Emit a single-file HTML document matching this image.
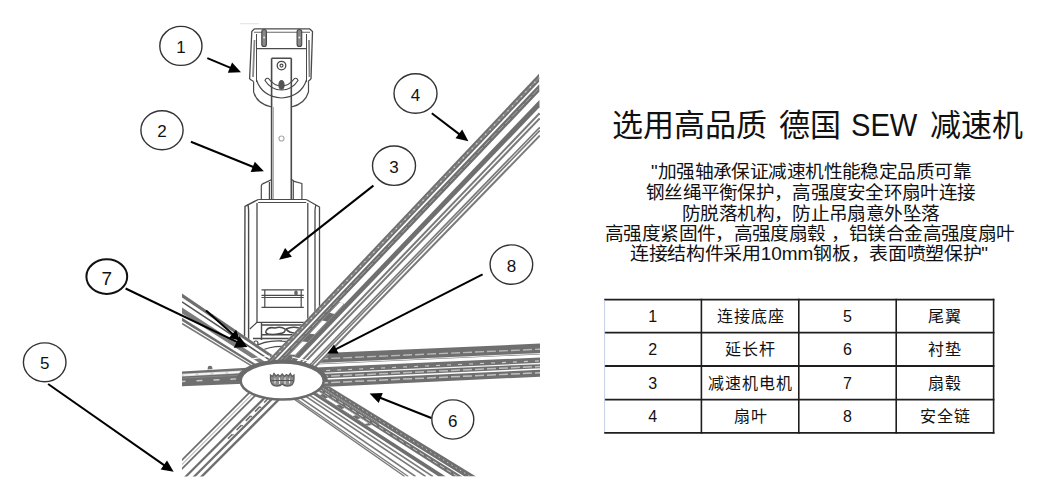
<!DOCTYPE html>
<html lang="zh-CN"><head><meta charset="utf-8">
<style>
html,body{margin:0;padding:0;background:#fff;}
body{width:1056px;height:499px;position:relative;overflow:hidden;font-family:"Liberation Sans",sans-serif;color:#111;}
.t{position:absolute;white-space:nowrap;line-height:1;transform-origin:0 0;}
.c{position:absolute;width:96px;height:18px;line-height:18px;text-align:center;font-size:16px;letter-spacing:1px;text-indent:1px;color:#111;white-space:nowrap;}
td{width:95.4px;height:31.3px;border:2px solid #222;padding:0;text-align:center;font-size:16px;color:#111;}
td.l{border-left:1px solid #c9d3e6;}
</style></head><body>
<svg width="1056" height="499" style="position:absolute;left:0;top:0" font-family="Liberation Sans, sans-serif">
<defs><clipPath id="cp"><rect x="182" y="0" width="358" height="476.5"/></clipPath></defs>
<g clip-path="url(#cp)">

<g fill="none" stroke="#4a4a4a" stroke-width="1.2" stroke-linejoin="round">
  <!-- bracket outer frame -->
  <path d="M254.5,28.8 L309.5,28.8 L312.5,31.5 L311,79 M254.5,28.8 L251.8,31.5 L249.6,79" stroke-width="1.3"/>
  <path d="M254,32.3 L310,32.3" stroke-width="1.1" stroke="#666"/>
  <path d="M249.6,79 L253.6,81.5 M311,79 L308,81.5" />
  <path d="M254.5,40 L253,77 M309,40 L309.5,77" stroke-width="1.8" stroke="#888"/>
  <path d="M256,48.7 L307,48.7" stroke-width="1.2"/>
  <path d="M256.5,34 L256.5,82 M306.5,34 L306.5,82" stroke-width="1"/>
  <path d="M253.6,81.5 L253.6,92 Q257,104 271.6,107 M308.5,81.5 L308.5,92 Q305,104 291.3,107" stroke-width="1.2"/>
  <path d="M256.5,80 Q262,96.5 281.5,98 Q301,96.5 306.5,80" />
  <path d="M265,80.5 Q271,90 281.5,90 Q292,90 298,80.5 Q297,77.5 294.5,78.5 Q289,86 281.5,86 Q274,86 268.5,78.5 Q266,77.5 265,80.5 Z" stroke-width="1.2"/>
  <ellipse cx="281.5" cy="85" rx="3.2" ry="5" fill="#555" stroke="none"/>
  <line x1="240" y1="23.7" x2="259" y2="23.7" stroke="#e6e6e6" stroke-width="1.2"/>
  <!-- bolts -->
  <rect x="261.8" y="29.5" width="4.6" height="17" rx="2.3" fill="#888"/>
  <rect x="297.1" y="29.5" width="4.6" height="17" rx="2.3" fill="#888"/>
  <circle cx="264.1" cy="37.5" r="0.9" fill="#eee" stroke="none"/>
  <circle cx="299.4" cy="37.5" r="0.9" fill="#eee" stroke="none"/>
  <!-- rod -->
  <path d="M271.6,58.3 L291.3,58.3 M271.6,58.3 L271.6,200 M291.3,58.3 L291.3,200" stroke-width="1.6"/>
  <path d="M273.5,107 L273.5,200" stroke-width="0.8" stroke="#999"/>
  <circle cx="281.5" cy="65.6" r="4.3" stroke-width="1.3"/>
  <circle cx="281.5" cy="65.6" r="1.5" />
  <circle cx="281.5" cy="138.5" r="2.5" stroke="#aaa"/>
  <!-- rod collars -->
  <path d="M271.7,179.5 L265.3,182.6 Q261.3,184 261.3,186 L261.3,199.8 M269.4,182 L269.4,199.8" />
  <path d="M291,179 L294.2,181.3 L301.9,183.5 L301.9,199.8 M293.3,181 L293.3,199.8" />
  <!-- housing -->
  <path d="M258.2,199.5 L306.2,199.5 M258.2,202.5 L306.2,202.5" stroke-width="1.2"/>
  <path d="M258.2,199.5 L245,206.4 L244.5,345 M248,204 L248.6,210 L248.6,345" stroke-width="1.4"/>
  <path d="M306.2,199.5 L319.5,207 L319.5,340 M315.8,204.6 L315,210 L315,340" stroke-width="1.3"/>
  <path d="M257,203 L257,322.3 L307.8,322.3 L307.8,203" stroke-width="1.3"/>
  <!-- label plate -->
  <path d="M261.5,289.8 L303.8,289.8 M261.5,295.4 L303.8,295.4 M261.5,297.5 L303.8,297.5 M261.5,307.4 L303.8,307.4 M264.8,290 L264.8,307.4 M301.2,290 L301.2,307.4" stroke-width="1.2"/>
  <ellipse cx="296" cy="293" rx="1.8" ry="2.7" fill="#666" stroke="none"/>
  <!-- gearbox -->
  <path d="M257,322.3 L249.8,329 M307.8,322.3 L314,329" />
  <path d="M261.5,323 L261.5,340 M261.5,325 L303,325 M261.5,334.7 L300,334.7 M253,338.5 L312,338.5" stroke-width="1.4"/>
  <path d="M266,331 Q268,326.5 275,328 Q281,326 285,329 Q286,333 280,333.5 Q273,335 268,334 Q265,333 266,331 Z" stroke-width="1.5"/>
  <path d="M286,329 Q292,326 299,328 Q301,332 295,333 Q289,333 286,329 Z" stroke-width="1.5"/>
  <path d="M252,349 Q262,340 282,341 Q298,341 310,348" stroke-width="1.4"/>
  <path d="M258,352 Q270,346 284,346.5 Q296,347 304,351" stroke-width="1.2"/>
  <circle cx="256" cy="343" r="2" stroke-width="1.2"/>
</g>

<polygon points="275.4,366.6 150.0,492.0 183.0,496.0 308.4,370.6" fill="#fff"/>
<line x1="275.4" y1="366.6" x2="150.0" y2="492.0" stroke="#6f6f6f" stroke-width="1.80" stroke-linecap="butt"/>
<line x1="279.4" y1="367.0" x2="154.0" y2="492.5" stroke="#9a9a9a" stroke-width="1.00" stroke-linecap="butt"/>
<line x1="283.2" y1="367.5" x2="157.8" y2="492.9" stroke="#6f6f6f" stroke-width="1.80" stroke-linecap="butt"/>
<line x1="293.6" y1="368.8" x2="168.2" y2="494.2" stroke="#6f6f6f" stroke-width="2.20" stroke-linecap="butt"/>
<line x1="301.2" y1="369.7" x2="175.7" y2="495.1" stroke="#6f6f6f" stroke-width="2.20" stroke-linecap="butt"/>
<line x1="307.8" y1="370.5" x2="182.3" y2="495.9" stroke="#6f6f6f" stroke-width="2.40" stroke-linecap="butt"/>
<line x1="278.3" y1="388.3" x2="227.9" y2="438.7" stroke="#6f6f6f" stroke-width="1.60" stroke-dasharray="7 6" stroke-linecap="butt"/>
<line x1="279.5" y1="388.4" x2="229.1" y2="438.8" stroke="#6f6f6f" stroke-width="1.20" stroke-dasharray="1.5 11.5" stroke-linecap="butt"/>
<polygon points="270.4,366.3 182.0,371.5 182.0,386.3 270.4,382.7" fill="#fff"/>
<polygon points="270.4,366.3 182.0,371.5 182.0,386.3 270.4,382.7" fill="#6f6f6f"/>
<line x1="270.4" y1="370.4" x2="182.0" y2="375.2" stroke="#d4d4d4" stroke-width="2.80" stroke-linecap="butt"/>
<line x1="270.4" y1="370.4" x2="182.0" y2="375.2" stroke="#fafafa" stroke-width="1.40" stroke-dasharray="12 3" stroke-linecap="butt"/>
<line x1="270.4" y1="373.7" x2="182.0" y2="378.2" stroke="#8a8a8a" stroke-width="0.80" stroke-linecap="butt"/>
<line x1="270.4" y1="377.3" x2="182.0" y2="381.4" stroke="#cacaca" stroke-width="1.50" stroke-dasharray="6 11" stroke-linecap="butt"/>
<polygon points="278.3,359.0 182.0,293.5 182.0,324.7 258.2,371.0" fill="#fff"/>
<polygon points="278.3,359.0 182.0,293.5 182.0,297.6 275.7,360.6" fill="#6f6f6f"/>
<line x1="272.9" y1="362.2" x2="182.0" y2="301.9" stroke="#555" stroke-width="1.60" stroke-linecap="butt"/>
<polygon points="269.2,364.4 182.0,307.5 182.0,313.5 265.4,366.7" fill="#7c7c7c"/>
<polygon points="262.6,368.3 182.0,317.8 182.0,321.0 260.6,369.5" fill="#6f6f6f"/>
<line x1="259.0" y1="370.5" x2="182.0" y2="323.5" stroke="#7a7a7a" stroke-width="1.60" stroke-linecap="butt"/>
<polygon points="304.6,371.2 476.0,476.5 404.0,476.5 278.6,388.6" fill="#fff"/>
<polygon points="304.6,371.2 476.0,476.5 464.5,476.5 300.5,374.0" fill="#6f6f6f"/>
<line x1="302.6" y1="372.6" x2="470.2" y2="476.5" stroke="#c8c8c8" stroke-width="1.00" stroke-dasharray="1.5 3.5" stroke-linecap="butt"/>
<polygon points="299.7,374.5 462.3,476.5 453.0,476.5 296.3,376.8" fill="#6f6f6f"/>
<line x1="298.0" y1="375.6" x2="457.6" y2="476.5" stroke="#c8c8c8" stroke-width="1.00" stroke-dasharray="5 3" stroke-linecap="butt"/>
<polygon points="300.5,374.0 379.5,423.4 378.1,423.7 299.7,374.5" fill="#6f6f6f"/>
<polygon points="296.3,376.8 371.8,424.9 367.0,425.8 293.7,378.5" fill="#6f6f6f"/>
<polygon points="315.4,389.5 322.4,393.9 320.0,394.9 313.2,390.5" fill="#fff"/>
<polygon points="327.9,397.5 339.1,404.6 336.4,405.4 325.4,398.4" fill="#fff"/>
<polygon points="344.6,408.1 355.8,415.2 352.7,416.0 341.8,409.0" fill="#fff"/>
<polygon points="360.7,418.3 368.3,423.2 365.0,423.9 357.5,419.0" fill="#fff"/>
<polygon points="293.7,378.5 445.8,476.5 438.6,476.5 291.1,380.2" fill="#6f6f6f"/>
<line x1="289.0" y1="381.6" x2="432.8" y2="476.5" stroke="#7a7a7a" stroke-width="1.60" stroke-linecap="butt"/>
<line x1="286.4" y1="383.4" x2="425.6" y2="476.5" stroke="#7a7a7a" stroke-width="1.60" stroke-linecap="butt"/>
<line x1="282.7" y1="385.8" x2="415.5" y2="476.5" stroke="#7a7a7a" stroke-width="1.60" stroke-linecap="butt"/>
<line x1="280.1" y1="387.5" x2="408.3" y2="476.5" stroke="#7a7a7a" stroke-width="1.30" stroke-linecap="butt"/>
<line x1="278.8" y1="388.4" x2="404.7" y2="476.5" stroke="#7a7a7a" stroke-width="1.30" stroke-linecap="butt"/>
<polygon points="271.2,355.2 540.0,343.6 540.0,376.7 271.2,389.4" fill="#fff"/>
<polygon points="271.2,355.2 540.0,343.6 540.0,354.5 271.2,366.5" fill="#6f6f6f"/>
<line x1="271.2" y1="361.0" x2="540.0" y2="349.2" stroke="#b8b8b8" stroke-width="1.40" stroke-dasharray="9 3" stroke-linecap="butt"/>
<line x1="271.2" y1="365.5" x2="540.0" y2="353.5" stroke="#e6e6e6" stroke-width="1.00" stroke-linecap="butt"/>
<polygon points="271.2,369.6 540.0,357.5 540.0,376.7 271.2,389.4" fill="#6f6f6f"/>
<line x1="271.2" y1="373.0" x2="540.0" y2="360.8" stroke="#c8c8c8" stroke-width="1.20" stroke-dasharray="4 7" stroke-linecap="butt"/>
<line x1="271.2" y1="375.7" x2="540.0" y2="363.5" stroke="#f4f4f4" stroke-width="1.30" stroke-linecap="butt"/>
<line x1="271.2" y1="378.8" x2="540.0" y2="366.4" stroke="#bdbdbd" stroke-width="1.50" stroke-dasharray="9 3" stroke-linecap="butt"/>
<line x1="271.2" y1="381.5" x2="540.0" y2="369.1" stroke="#ffffff" stroke-width="1.50" stroke-linecap="butt"/>
<line x1="271.2" y1="385.3" x2="540.0" y2="372.7" stroke="#c0c0c0" stroke-width="1.50" stroke-dasharray="9 3" stroke-linecap="butt"/>
<polygon points="258.1,370.8 539.0,73.8 540.0,137.0 314.2,369.1" fill="#fff"/>
<polygon points="258.1,370.8 539.0,73.8 539.1,81.7 265.1,370.6" fill="#6f6f6f"/>
<line x1="261.6" y1="370.7" x2="539.1" y2="77.8" stroke="#888" stroke-width="1.60" stroke-linecap="butt"/>
<line x1="261.6" y1="370.7" x2="539.1" y2="77.8" stroke="#d0d0d0" stroke-width="1.30" stroke-dasharray="1.5 5" stroke-linecap="butt"/>
<polygon points="267.4,370.5 539.2,84.2 539.3,91.8 274.1,370.3" fill="#6f6f6f"/>
<line x1="270.7" y1="370.4" x2="539.2" y2="88.0" stroke="#a8a8a8" stroke-width="1.00" stroke-dasharray="8 2" stroke-linecap="butt"/>
<polygon points="274.1,370.3 339.1,302.0 344.7,303.9 281.4,370.1" fill="#6f6f6f"/>
<polygon points="289.9,354.6 302.4,341.5 307.4,342.0 295.2,354.8" fill="#fff"/>
<polygon points="309.9,333.7 322.3,320.6 326.9,321.6 314.7,334.3" fill="#fff"/>
<polygon points="329.8,312.7 339.8,302.2 344.0,303.7 334.3,313.9" fill="#fff"/>
<polygon points="281.4,370.1 539.4,100.0 539.5,107.3 287.8,369.9" fill="#6f6f6f"/>
<line x1="293.2" y1="369.8" x2="539.6" y2="113.3" stroke="#7a7a7a" stroke-width="2.00" stroke-linecap="butt"/>
<line x1="297.7" y1="369.6" x2="539.7" y2="118.4" stroke="#7a7a7a" stroke-width="2.00" stroke-linecap="butt"/>
<line x1="305.5" y1="369.4" x2="539.8" y2="127.2" stroke="#7a7a7a" stroke-width="1.60" stroke-linecap="butt"/>
<line x1="308.3" y1="369.3" x2="539.9" y2="130.4" stroke="#7a7a7a" stroke-width="1.60" stroke-linecap="butt"/>
<line x1="312.8" y1="369.2" x2="540.0" y2="135.4" stroke="#7a7a7a" stroke-width="2.00" stroke-linecap="butt"/>
<path d="M207.5,369.5 L208,366.5 Q210,365 212,366.5 L212.5,369" fill="#6f6f6f"/>

<path d="M236,381 A46,21.5 0 0 1 328,381 Z" fill="#6a6a6a"/>
<path d="M252,359 L270,356 M292,357 L312,362" stroke="#fff" stroke-width="1.2" fill="none"/>
<ellipse cx="282.2" cy="381" rx="41.5" ry="18.5" fill="#fff" stroke="#6a6a6a" stroke-width="2.5"/>
<g stroke="#5e5e5e" stroke-width="1.3" fill="#8a8a8a">
<path d="M270.5,379 L270.5,375 L272.5,376.5 L274,373.5 L276,376 L278,374.5 L280,376.5 L282.2,374 L284.4,376.5 L286.4,374.5 L288.4,376 L290.4,373.5 L292,376.5 L294,375 L294,379 Q294,386 287.5,386 Q284,386 282.2,384 Q280.4,386 277,386 Q270.5,386 270.5,379 Z"/>
</g>
<path d="M275,378.5 L275,383.5 M279.5,377.5 L279.5,384 M285,377.5 L285,384 M289.5,378.5 L289.5,383.5" stroke="#e8e8e8" stroke-width="1.1" fill="none"/>
<path d="M271,380.5 L293.5,380.5" stroke="#555" stroke-width="1" fill="none"/>

</g>
<ellipse cx="180.9" cy="45.9" rx="21.1" ry="19.5" fill="none" stroke="#333" stroke-width="1.4"/>
<text x="180.9" y="53.0" text-anchor="middle" font-size="17" fill="#111">1</text>
<line x1="207.3" y1="58.2" x2="231.8" y2="68.4" stroke="#000" stroke-width="2"/>
<polygon points="241.0,72.3 227.8,72.7 232.1,62.6" fill="#000"/>
<ellipse cx="162" cy="130.2" rx="21.1" ry="19.5" fill="none" stroke="#333" stroke-width="1.4"/>
<text x="162" y="137.3" text-anchor="middle" font-size="17" fill="#111">2</text>
<line x1="190.9" y1="141.7" x2="254.6" y2="167.5" stroke="#000" stroke-width="2"/>
<polygon points="263.9,171.3 250.7,171.9 254.8,161.7" fill="#000"/>
<ellipse cx="394" cy="165.7" rx="21.5" ry="19.7" fill="none" stroke="#333" stroke-width="1.4"/>
<text x="394" y="172.8" text-anchor="middle" font-size="17" fill="#111">3</text>
<line x1="373.4" y1="185.6" x2="287.0" y2="253.6" stroke="#000" stroke-width="2"/>
<polygon points="279.1,259.8 285.1,248.1 291.9,256.7" fill="#000"/>
<ellipse cx="415.5" cy="93.5" rx="21.5" ry="19.7" fill="none" stroke="#333" stroke-width="1.4"/>
<text x="415.5" y="100.6" text-anchor="middle" font-size="17" fill="#111">4</text>
<line x1="431.8" y1="113.2" x2="460.5" y2="135.1" stroke="#000" stroke-width="2"/>
<polygon points="468.4,141.2 455.5,138.3 462.2,129.5" fill="#000"/>
<ellipse cx="44.7" cy="362.3" rx="21.3" ry="19.4" fill="none" stroke="#333" stroke-width="1.4"/>
<text x="44.7" y="369.4" text-anchor="middle" font-size="17" fill="#111">5</text>
<line x1="48.1" y1="384" x2="165.5" y2="466.1" stroke="#000" stroke-width="2"/>
<polygon points="173.7,471.8 160.7,469.4 167.0,460.4" fill="#000"/>
<ellipse cx="452.8" cy="419.5" rx="21.0" ry="19.599999999999998" fill="none" stroke="#333" stroke-width="1.4"/>
<text x="452.8" y="426.6" text-anchor="middle" font-size="17" fill="#111">6</text>
<line x1="431.3" y1="418" x2="378.9" y2="397.3" stroke="#000" stroke-width="2"/>
<polygon points="369.6,393.6 382.8,392.9 378.7,403.1" fill="#000"/>
<ellipse cx="106.8" cy="276.6" rx="20.4" ry="17.3" fill="none" stroke="#111" stroke-width="2"/>
<text x="106.8" y="284.6" text-anchor="middle" font-size="19" fill="#111">7</text>
<line x1="125.6" y1="288.5" x2="238.4" y2="342.7" stroke="#000" stroke-width="2"/>
<polygon points="247.4,347.0 233.8,347.7 239.4,335.9" fill="#000"/>
<line x1="206" y1="310.5" x2="234.0" y2="335.2" stroke="#000" stroke-width="2"/>
<polygon points="240.0,340.5 228.9,338.0 236.1,329.8" fill="#000"/>
<ellipse cx="511.4" cy="264.6" rx="21.3" ry="19.7" fill="none" stroke="#333" stroke-width="1.4"/>
<text x="511.4" y="271.7" text-anchor="middle" font-size="17" fill="#111">8</text>
<line x1="482.6" y1="274.4" x2="334.5" y2="349.9" stroke="#000" stroke-width="2"/>
<polygon points="327.4,353.5 334.0,344.5 338.6,353.4" fill="#000"/>
</svg>
<div class="t" style="left:612.0px;top:110.2px;font-size:31.00px;transform:scaleX(1.0000)">选用高品质</div>
<div class="t" style="left:779.0px;top:110.2px;font-size:31.00px;transform:scaleX(1.0000)">德国</div>
<div class="t" style="left:850.5px;top:109.8px;font-size:31.00px;transform:scaleX(0.9400)">SEW</div>
<div class="t" style="left:929.5px;top:110.2px;font-size:31.00px;transform:scaleX(1.0000)">减速机</div>
<div class="t" style="left:651.0px;top:162.8px;font-size:18.30px;transform:scaleX(1.0240)">"加强轴承保证减速机性能稳定品质可靠</div>
<div class="t" style="left:646.0px;top:183.7px;font-size:18.30px;transform:scaleX(1.0160)">钢丝绳平衡保护，高强度安全环扇叶连接</div>
<div class="t" style="left:682.0px;top:205.3px;font-size:18.30px;transform:scaleX(1.0210)">防脱落机构，防止吊扇意外坠落</div>
<div class="t" style="left:604.5px;top:224.6px;font-size:18.30px;transform:scaleX(1.0210)">高强度紧固件，高强度扇毂 ，铝镁合金高强度扇叶</div>
<div class="t" style="left:630.0px;top:245.4px;font-size:18.30px;transform:scaleX(1.0370)">连接结构件采用10mm钢板，表面喷塑保护"</div>
<svg width="1056" height="499" style="position:absolute;left:0;top:0">
<line x1="604.2" y1="299.6" x2="994.4" y2="299.6" stroke="#1e1e1e" stroke-width="1.8"/>
<line x1="604.2" y1="332.7" x2="994.4" y2="332.7" stroke="#1e1e1e" stroke-width="1.8"/>
<line x1="604.2" y1="366.0" x2="994.4" y2="366.0" stroke="#1e1e1e" stroke-width="1.8"/>
<line x1="604.2" y1="399.7" x2="994.4" y2="399.7" stroke="#1e1e1e" stroke-width="1.8"/>
<line x1="604.2" y1="432.8" x2="994.4" y2="432.8" stroke="#1e1e1e" stroke-width="1.8"/>
<line x1="604.6" y1="300.5" x2="604.6" y2="432" stroke="#c5d0e6" stroke-width="1"/>
<line x1="701.4" y1="298.7" x2="701.4" y2="433.7" stroke="#1e1e1e" stroke-width="1.6"/>
<line x1="798.8" y1="298.7" x2="798.8" y2="433.7" stroke="#1e1e1e" stroke-width="1.6"/>
<line x1="896.2" y1="298.7" x2="896.2" y2="433.7" stroke="#1e1e1e" stroke-width="1.6"/>
<line x1="993.6" y1="298.7" x2="993.6" y2="433.7" stroke="#1e1e1e" stroke-width="1.6"/>
</svg>
<div class="c" style="left:604.8px;top:307.8px">1</div>
<div class="c" style="left:702.1px;top:307.8px">连接底座</div>
<div class="c" style="left:799.5px;top:307.8px">5</div>
<div class="c" style="left:896.9px;top:307.8px">尾翼</div>
<div class="c" style="left:604.8px;top:341.1px">2</div>
<div class="c" style="left:702.1px;top:341.1px">延长杆</div>
<div class="c" style="left:799.5px;top:341.1px">6</div>
<div class="c" style="left:896.9px;top:341.1px">衬垫</div>
<div class="c" style="left:604.8px;top:374.6px">3</div>
<div class="c" style="left:702.1px;top:374.6px">减速机电机</div>
<div class="c" style="left:799.5px;top:374.6px">7</div>
<div class="c" style="left:896.9px;top:374.6px">扇毂</div>
<div class="c" style="left:604.8px;top:407.9px">4</div>
<div class="c" style="left:702.1px;top:407.9px">扇叶</div>
<div class="c" style="left:799.5px;top:407.9px">8</div>
<div class="c" style="left:896.9px;top:407.9px">安全链</div>
</body></html>
